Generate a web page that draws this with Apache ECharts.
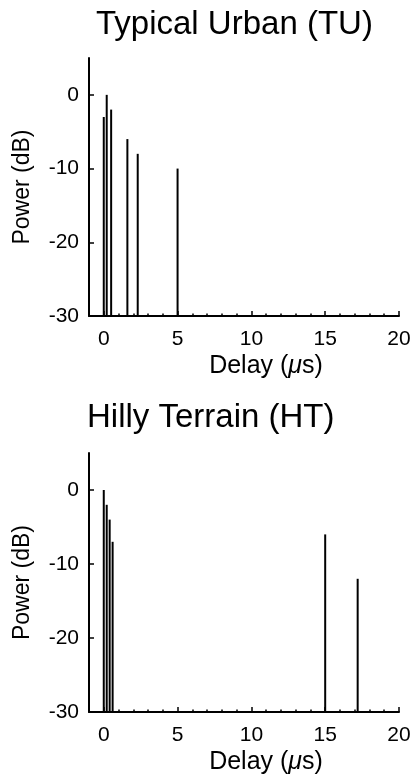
<!DOCTYPE html>
<html>
<head>
<meta charset="utf-8">
<script src="https://cdn.jsdelivr.net/npm/echarts@6/dist/echarts.min.js"></script>
<style>
html,body{margin:0;padding:0;background:#fff;}
#chart{width:415px;height:777px;}
</style>
</head>
<body>
<div id="chart"></div>
<script>
// ---- data ----
const titles = ['Typical Urban (TU)', 'Hilly Terrain (HT)'];
const tuDelay = [0, 0.2, 0.5, 1.6, 2.3, 5.0];
const tuPower = [-3, 0, -2, -6, -8, -10];
const htDelay = [0, 0.2, 0.4, 0.6, 15.0, 17.2];
const htPower = [0, -2, -4, -7, -6, -12];
const xTicks = [0, 5, 10, 15, 20];
const yTicks = [-30, -20, -10, 0];
const xLabel = 'Delay ({mu|μ}s)';
const yLabel = 'Power (dB)';

// ---- layout ----
const FONT = '"Liberation Sans", Arial, Helvetica, sans-serif';
const xMin = -1, xMax = 20, yMin = -30, yMax = 5;
const gridLeft = 89, gridWidth = 310;
const panels = [
  {top: 58, height: 258, delay: tuDelay, power: tuPower, title: titles[0], tLeft: 96, tTop: 8},
  {top: 453, height: 259, delay: htDelay, power: htPower, title: titles[1], tLeft: 87, tTop: 401}
];

const chart = echarts.init(document.getElementById('chart'), null, {renderer: 'canvas'});
const grid = [], xAxis = [], yAxis = [], series = [], title = [];
const lineStyle = {color: '#000', width: 2};
const labelStyle = {color: '#000', fontFamily: FONT, fontSize: 21};

panels.forEach((p, i) => {
  const pxPerX = gridWidth / (xMax - xMin);
  const pxPerY = p.height / (yMax - yMin);
  const g0 = grid.length;
  // main grid: axis lines, minor x ticks, names
  grid.push({left: gridLeft, top: p.top, width: gridWidth, height: p.height});
  // overlay grid for major x ticks/labels (0..20)
  grid.push({left: gridLeft + (0 - xMin) * pxPerX, top: p.top, width: (xMax - 0) * pxPerX, height: p.height});
  // overlay grid for y ticks/labels (-30..0)
  grid.push({left: gridLeft, top: p.top + (yMax - 0) * pxPerY, width: gridWidth, height: (0 - yMin) * pxPerY});

  // main
  xAxis.push({
    gridIndex: g0, type: 'value', min: xMin, max: xMax, interval: 1,
    axisLine: {show: true, onZero: false, lineStyle},
    axisTick: {show: true, inside: true, length: 2.5, lineStyle: {color: '#000', width: 1.5}},
    axisLabel: {show: false}, splitLine: {show: false},
    name: xLabel, nameLocation: 'middle', nameGap: 38,
    nameTextStyle: {color: '#000', fontFamily: FONT, fontSize: 25, padding: [0, 0, 0, 44],
      rich: {mu: {fontStyle: 'italic', fontFamily: FONT, fontSize: 25, color: '#000'}}}
  });
  yAxis.push({
    gridIndex: g0, type: 'value', min: yMin, max: yMax,
    axisLine: {show: true, onZero: false, lineStyle},
    axisTick: {show: false}, axisLabel: {show: false}, splitLine: {show: false},
    name: yLabel, nameLocation: 'middle', nameGap: 55,
    nameTextStyle: {color: '#000', fontFamily: FONT, fontSize: 23}
  });
  // major x overlay
  xAxis.push({
    gridIndex: g0 + 1, type: 'value', min: 0, max: xMax, interval: 5,
    axisLine: {show: false, onZero: false},
    axisTick: {show: true, inside: true, length: 5, lineStyle: {color: '#000', width: 1.5}},
    axisLabel: Object.assign({show: true, margin: 13, formatter: v => xTicks.includes(v) ? String(v) : ''}, labelStyle),
    splitLine: {show: false}
  });
  yAxis.push({gridIndex: g0 + 1, type: 'value', min: yMin, max: yMax, show: false});
  // y overlay
  xAxis.push({gridIndex: g0 + 2, type: 'value', min: xMin, max: xMax, show: false});
  yAxis.push({
    gridIndex: g0 + 2, type: 'value', min: yMin, max: 0, interval: 10,
    axisLine: {show: false, onZero: false},
    axisTick: {show: true, inside: true, length: 5, lineStyle: {color: '#000', width: 1.5}},
    axisLabel: Object.assign({show: true, margin: 10, formatter: v => yTicks.includes(v) ? String(v) : ''}, labelStyle),
    splitLine: {show: false}
  });

  series.push({
    type: 'custom', xAxisIndex: g0, yAxisIndex: g0,
    data: p.delay.map((d, k) => [d, p.power[k]]),
    encode: {x: 0, y: 1},
    clip: true,
    renderItem: (params, api) => {
      const top = api.coord([api.value(0), api.value(1)]);
      const base = api.coord([api.value(0), yMin]);
      return {type: 'line', shape: {x1: top[0], y1: top[1], x2: base[0], y2: base[1]},
        style: {stroke: '#000', lineWidth: 2}};
    }
  });

  title.push({text: p.title, left: p.tLeft, top: p.tTop, padding: 0,
    textStyle: {color: '#000', fontFamily: FONT, fontSize: 33, fontWeight: 'normal'}});
});

chart.setOption({
  backgroundColor: '#fff',
  animation: false,
  title, grid, xAxis, yAxis, series
});
</script>
</body>
</html>
